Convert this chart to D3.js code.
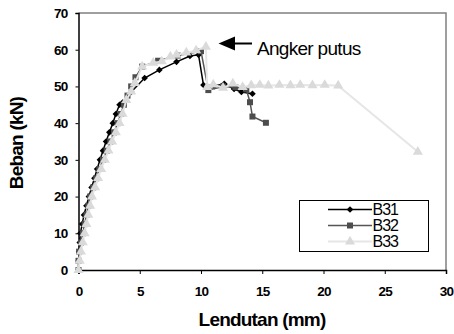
<html>
<head>
<meta charset="utf-8">
<script src="https://d3js.org/d3.v7.min.js"></script>
<style>
  body { margin: 0; background: #fff; }
  text { font-family: "Liberation Sans", Arial, sans-serif; }
</style>
</head>
<body>
<script>
// data
var seriesNames = ["B31", "B32", "B33"];
var b31X = [0, 0.02, 0.05, 0.1, 0.15, 0.3, 0.45, 0.65, 0.85, 1.07, 1.3, 1.52, 1.75, 2.0, 2.25, 2.52, 2.8, 3.05, 3.35, 3.6, 4.3, 5.4, 6.6, 8.0, 9.1, 9.8, 10.2, 11.1, 11.9, 12.7, 13.3, 14.2];
var b31Y = [0, 2.5, 5, 7.5, 10, 12.5, 15, 17.5, 20, 22.5, 25, 27.5, 30, 32.5, 35, 37.5, 40, 42.5, 45, 45.6, 48.5, 52.3, 54.5, 56.7, 58.3, 58.6, 50.4, 50.1, 50.7, 49.3, 48.5, 48];
var b32X = [0, 0, 0.05, 0.2, 0.35, 0.5, 0.65, 0.8, 0.95, 1.2, 1.45, 1.7, 2.0, 2.3, 2.6, 2.9, 3.2, 3.45, 3.7, 4.0, 4.3, 4.65, 5.2, 6.5, 8.1, 10.0, 10.6, 11.8, 12.8, 13.7, 14.0, 14.2, 15.3];
var b32Y = [0, 2.5, 5, 7.5, 10, 12.5, 15, 17.5, 20, 22.5, 25, 27.5, 30, 32.5, 35, 37.5, 40, 42.5, 45, 47.5, 50, 52.5, 55.4, 57, 58.4, 59.6, 49, 50, 49.8, 49.2, 45.7, 41.8, 40.1];
var b33X = [0, 0.1, 0.2, 0.35, 0.5, 0.65, 0.8, 0.95, 1.1, 1.35, 1.6, 1.85, 2.15, 2.45, 2.75, 3.05, 3.35, 3.6, 3.9, 4.3, 4.6, 5.2, 6.1, 6.8, 7.5, 8.0, 8.8, 9.6, 10.4, 10.5, 11.0, 11.8, 12.6, 13.4, 14.1, 14.8, 15.5, 16.4, 17.3, 18.1, 19.1, 20.1, 21.2, 27.7];
var b33Y = [0, 2.5, 5, 7.5, 10, 12.5, 15, 17.5, 20, 22.5, 25, 27.5, 30, 32.5, 35, 37.5, 40, 42.5, 46.3, 48.6, 50.9, 55.4, 56.4, 56.8, 58.1, 58.6, 59.2, 59.8, 60.8, 49.8, 50.5, 49.6, 50.8, 49.8, 50.3, 50.4, 50.2, 50.4, 50.3, 50.4, 50.3, 50.4, 50.2, 32.2];
var xTicks = [0, 5, 10, 15, 20, 25, 30];
var yTicks = [0, 10, 20, 30, 40, 50, 60, 70];
var noteText = "Angker putus";

var width = 454, height = 334;
var plotL = 78.5, plotR = 446, plotT = 13, plotB = 270;

var svg = d3.select("body").append("svg").attr("width", width).attr("height", height);

var x = d3.scaleLinear().domain([0, 30]).range([plotL, plotR]);
var y = d3.scaleLinear().domain([0, 70]).range([plotB, plotT]);

// frame top/right in gray
svg.append("path")
    .attr("d", "M" + plotL + "," + plotT + "H" + plotR + "V" + plotB)
    .attr("fill", "none").attr("stroke", "#808080").attr("stroke-width", 1.5);

// axes
var yAxis = svg.append("g")
    .attr("transform", "translate(" + plotL + ",0)")
    .call(d3.axisLeft(y).tickValues(yTicks).tickSize(3).tickPadding(8));
var xAxis = svg.append("g")
    .attr("transform", "translate(0," + plotB + ")")
    .call(d3.axisBottom(x).tickValues(xTicks).tickSize(4).tickPadding(12));
[xAxis, yAxis].forEach(function(g) {
    g.select(".domain").attr("stroke", "#000").attr("stroke-width", 1.5);
    g.selectAll(".tick line").attr("stroke", "#000").attr("stroke-width", 1);
    g.selectAll("text")
        .attr("font-family", "Liberation Sans, Arial, sans-serif")
        .attr("font-size", 13.5).attr("font-weight", "bold")
        .attr("letter-spacing", -0.8).attr("fill", "#000");
});

// series
var series = [
    { name: seriesNames[0], xs: b31X, ys: b31Y, color: "#000", mark: "#000", sym: d3.symbolSquare, size: 22, rot: 45, lw: 1.5 },
    { name: seriesNames[1], xs: b32X, ys: b32Y, color: "#555", mark: "#4d4d4d", sym: d3.symbolSquare, size: 36, rot: 0, lw: 1.5 },
    { name: seriesNames[2], xs: b33X, ys: b33Y, color: "#e6e6e6", mark: "#dadada", sym: d3.symbolTriangle, size: 44, rot: 0, lw: 2 }
];

var line = d3.line().x(function(d) { return x(d[0]); }).y(function(d) { return y(d[1]); });

series.forEach(function(s) {
    var pts = s.xs.map(function(v, i) { return [v, s.ys[i]]; });
    var g = svg.append("g");
    g.append("path").attr("d", line(pts))
        .attr("fill", "none").attr("stroke", s.color).attr("stroke-width", s.lw);
    g.selectAll("path.m").data(pts).enter().append("path")
        .attr("class", "m")
        .attr("d", d3.symbol().type(s.sym).size(s.size))
        .attr("transform", function(d) { return "translate(" + x(d[0]) + "," + y(d[1]) + ") rotate(" + s.rot + ")"; })
        .attr("fill", s.mark);
});

// annotation arrow
svg.append("path").attr("d", "M218.5,43.5L235,36.5L235,50.5Z").attr("fill", "#000");
svg.append("line").attr("x1", 234).attr("x2", 252).attr("y1", 43.5).attr("y2", 43.5)
    .attr("stroke", "#000").attr("stroke-width", 2);
svg.append("text").attr("x", 257).attr("y", 55).text(noteText)
    .attr("font-size", 19).attr("letter-spacing", -0.7);

// legend
var lg = svg.append("g");
lg.append("rect").attr("x", 299.5).attr("y", 200.5).attr("width", 129).attr("height", 51)
    .attr("fill", "#fff").attr("stroke", "#000").attr("stroke-width", 1);
series.forEach(function(s, i) {
    var yy = 209.5 + i * 16;
    lg.append("line").attr("x1", 328).attr("x2", 372).attr("y1", yy).attr("y2", yy)
        .attr("stroke", s.color).attr("stroke-width", s.lw);
    lg.append("path").attr("d", d3.symbol().type(s.sym).size(s.size))
        .attr("transform", "translate(350," + yy + ") rotate(" + s.rot + ")")
        .attr("fill", s.mark);
    lg.append("text").attr("x", 372.5).attr("y", yy + 5.5).text(s.name)
        .attr("font-size", 16).attr("letter-spacing", -1);
});

// axis titles
svg.append("text").attr("x", 262).attr("y", 326).attr("text-anchor", "middle")
    .attr("font-size", 19).attr("font-weight", "bold").attr("letter-spacing", -0.8)
    .text("Lendutan (mm)");
svg.append("text").attr("transform", "translate(23,143) rotate(-90)").attr("text-anchor", "middle")
    .attr("font-size", 19).attr("font-weight", "bold").attr("letter-spacing", -0.8)
    .text("Beban (kN)");
</script>
</body>
</html>
